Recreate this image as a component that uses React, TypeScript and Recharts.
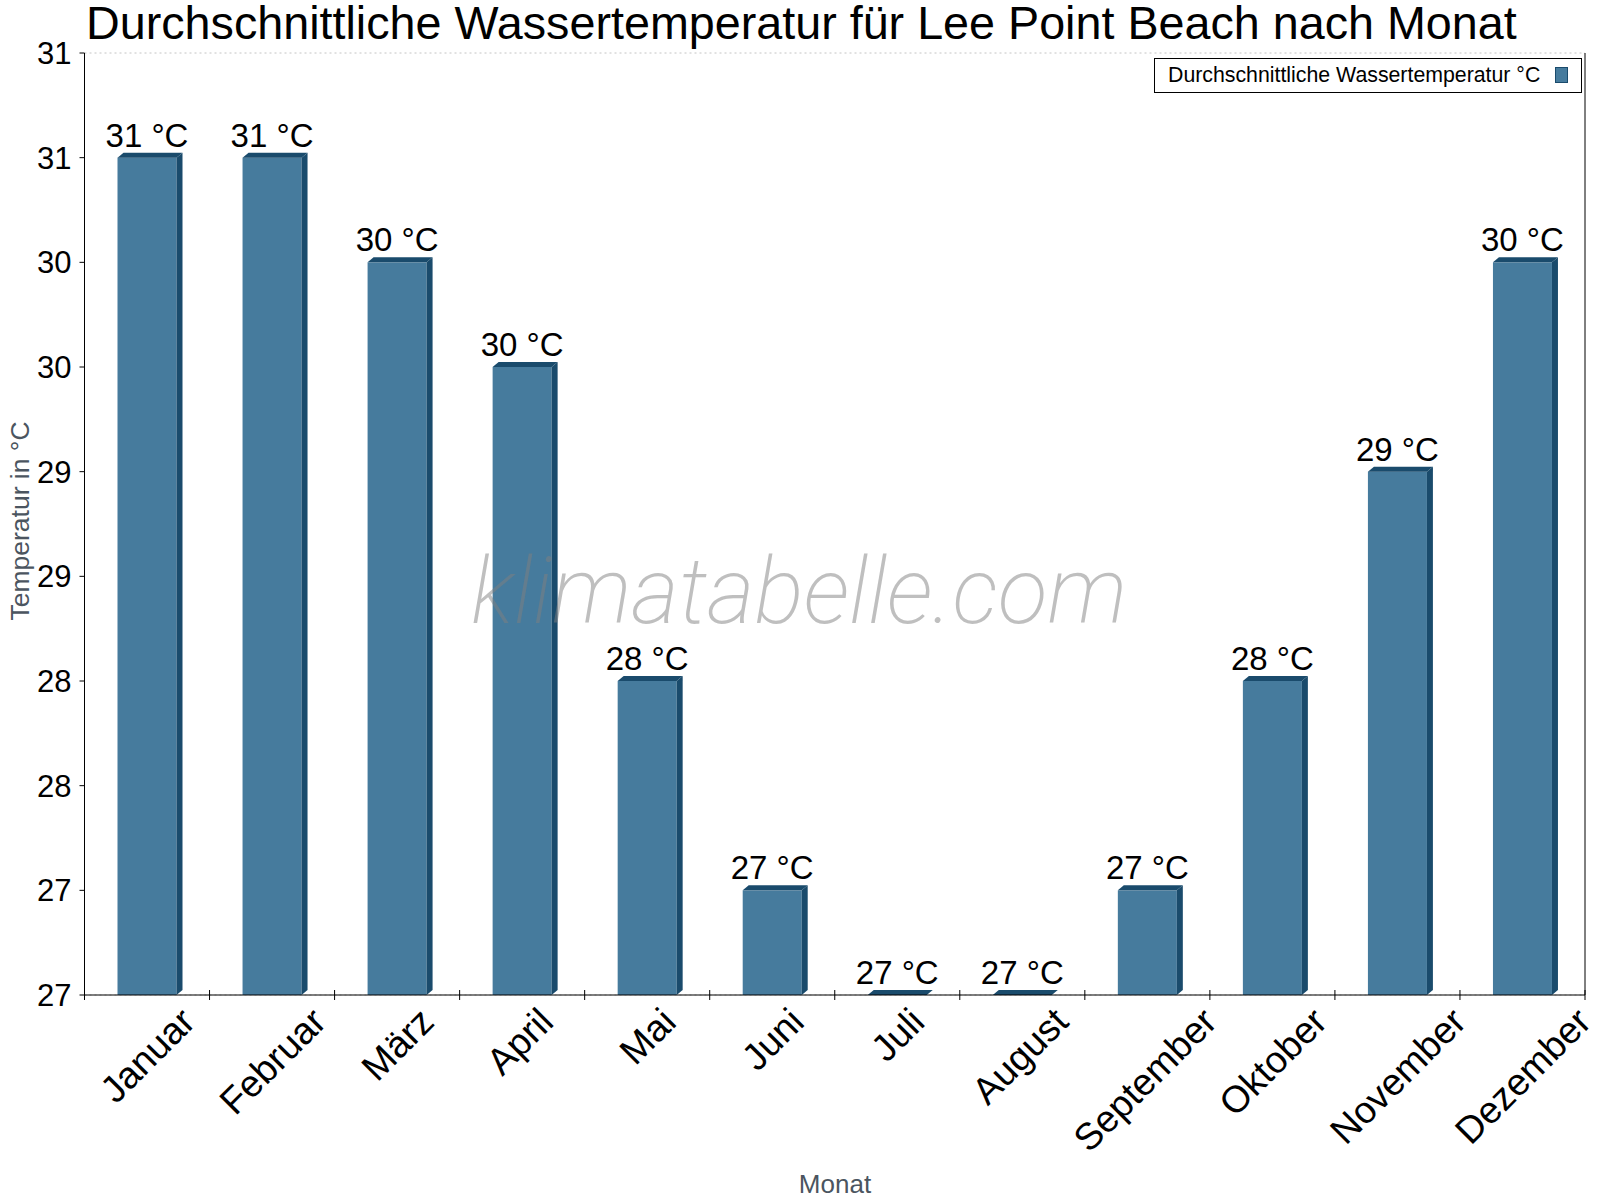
import React from "react";
import { BarChart, Bar, XAxis, YAxis, CartesianGrid, LabelList } from "recharts";

// ---------------------------------------------------------------------------
// Data
// ---------------------------------------------------------------------------

const months = [
  "Januar",
  "Februar",
  "März",
  "April",
  "Mai",
  "Juni",
  "Juli",
  "August",
  "September",
  "Oktober",
  "November",
  "Dezember",
];

// average water temperature in °C
const waterTemp = [30.9, 30.9, 30.4, 29.9, 28.4, 27.4, 26.9, 26.9, 27.4, 28.4, 29.4, 30.4];

const yTicks = [26.9, 27.4, 27.9, 28.4, 28.9, 29.4, 29.9, 30.4, 30.9, 31.4];

const TITLE = "Durchschnittliche Wassertemperatur für Lee Point Beach nach Monat";
const SERIES_NAME = "Durchschnittliche Wassertemperatur °C";

// ---------------------------------------------------------------------------
// Layout / style
// ---------------------------------------------------------------------------

const W = 1600;
const H = 1200;
const PLOT_LEFT = 84.5;
const PLOT_RIGHT = 1585;
const PLOT_TOP = 53;
const AXIS_Y = 995;
const BAND = (PLOT_RIGHT - PLOT_LEFT) / 12;

const FRONT = "#467b9d";
const DARK = "#1a4b6c";
const FONT = "'Liberation Sans', Arial, sans-serif";
const GRAY_TEXT = "#4b5560";

// Arial advance widths (per em) for the month labels
const CHAR_W: Record<string, number> = {
  a: 0.556, b: 0.556, c: 0.5, e: 0.556, g: 0.556, i: 0.222, k: 0.5, l: 0.222,
  m: 0.833, n: 0.556, o: 0.556, p: 0.556, r: 0.333, s: 0.5, t: 0.278, u: 0.556,
  v: 0.5, z: 0.5, "ä": 0.556, A: 0.667, D: 0.722, F: 0.611, J: 0.5, M: 0.833,
  N: 0.722, O: 0.778, S: 0.667,
};

const textWidth = (s: string, fs: number) =>
  s.split("").reduce((acc, ch) => acc + (CHAR_W[ch] ?? 0.556), 0) * fs;

const chartData = months.map((m, i) => ({ month: m, temp: waterTemp[i] }));

// ---------------------------------------------------------------------------
// Pieces
// ---------------------------------------------------------------------------

function Bar3D(props: any) {
  const { x, y, width, height } = props;
  const dx = 6;
  const dy = 5;
  return (
    <g>
      <rect x={x} y={y} width={width} height={Math.max(0, height)} fill={FRONT} />
      <polygon
        points={`${x},${y} ${x + dx},${y - dy} ${x + width + dx},${y - dy} ${x + width},${y}`}
        fill={DARK}
      />
      <polygon
        points={`${x + width},${y} ${x + width + dx},${y - dy} ${x + width + dx},${y + height - dy} ${x + width},${y + height}`}
        fill={DARK}
      />
    </g>
  );
}

function ValueLabel(props: any) {
  const { x, y, width, value } = props;
  return (
    <text
      x={x + width / 2}
      y={y - 11}
      textAnchor="middle"
      fontSize={33}
      fontFamily={FONT}
      fill="#000"
    >
      {`${Math.round(value)} °C`}
    </text>
  );
}

function MonthTick(props: any) {
  const { x, payload, index } = props;
  const label: string = payload.value;
  const fs = 37.5;
  const L = textWidth(label, fs);
  const desc = /[gpq]/.test(label) ? 0.21 : 0;
  const inkH = (0.716 + desc) * fs;
  const half = ((L + inkH) * Math.SQRT1_2) / 2;
  const cy = AXIS_Y + 10 + half;
  const dyText = ((0.716 - desc) / 2) * fs;
  return (
    <g>
      <line x1={x - BAND / 2} x2={x - BAND / 2} y1={AXIS_Y - 5} y2={AXIS_Y + 5} stroke="#000" />
      {index === months.length - 1 && (
        <line x1={x + BAND / 2} x2={x + BAND / 2} y1={AXIS_Y - 5} y2={AXIS_Y + 5} stroke="#000" />
      )}
      <g transform={`translate(${x},${cy}) rotate(-45)`}>
        <text x={0} y={dyText} textAnchor="middle" fontSize={fs} fontFamily={FONT} fill="#000">
          {label}
        </text>
      </g>
    </g>
  );
}

// ---------------------------------------------------------------------------
// Component
// ---------------------------------------------------------------------------

export default function App() {
  return (
    <div
      style={{
        position: "absolute",
        left: 0,
        top: 0,
        width: W,
        height: H,
        background: "#fff",
        fontFamily: FONT,
      }}
    >
      <BarChart
        width={W}
        height={H}
        data={chartData}
        margin={{ top: PLOT_TOP, right: W - PLOT_RIGHT - 10, bottom: 0, left: 0 }}
      >
        <CartesianGrid vertical={false} stroke="#c4c4c4" strokeDasharray="2 3" />
        <XAxis
          dataKey="month"
          height={H - AXIS_Y}
          axisLine={{ stroke: "#000" }}
          tickLine={false}
          interval={0}
          tick={<MonthTick />}
        />
        <YAxis
          yAxisId="left"
          width={PLOT_LEFT}
          domain={[yTicks[0], yTicks[yTicks.length - 1]]}
          allowDataOverflow
          ticks={yTicks}
          interval={0}
          tickSize={5}
          tickMargin={8}
          axisLine={{ stroke: "#000" }}
          tickLine={{ stroke: "#000" }}
          tick={{ fill: "#000", fontSize: 31, fontFamily: FONT }}
          tickFormatter={(v: number) => `${Math.round(v)}`}
        />
        <YAxis
          yAxisId="right"
          orientation="right"
          width={10}
          domain={[yTicks[0], yTicks[yTicks.length - 1]]}
          allowDataOverflow
          ticks={yTicks}
          tick={false}
          tickLine={false}
          axisLine={{ stroke: "#000" }}
        />
        <Bar
          yAxisId="left"
          dataKey="temp"
          barSize={59}
          shape={<Bar3D />}
          isAnimationActive={false}
        >
          <LabelList dataKey="temp" content={<ValueLabel />} />
        </Bar>
      </BarChart>

      {/* overlay: title, legend, axis titles, watermark */}
      <svg
        width={W}
        height={H}
        style={{ position: "absolute", left: 0, top: 0, pointerEvents: "none" }}
      >
        <text x={86} y={39} fontSize={46.7} fontFamily={FONT} fill="#000">
          {TITLE}
        </text>

        <g>
          <rect x={1154.5} y={58.5} width={427} height={34} fill="#fff" stroke="#000" />
          <text x={1168} y={82} fontSize={21.3} fontFamily={FONT} fill="#000">
            {SERIES_NAME}
          </text>
          <rect x={1555.5} y={67.5} width={12} height={15} fill={FRONT} stroke={DARK} />
        </g>

        <text
          transform={`translate(29,521) rotate(-90)`}
          textAnchor="middle"
          fontSize={26.5}
          fontFamily={FONT}
          fill={GRAY_TEXT}
        >
          Temperatur in °C
        </text>
        <text x={835} y={1193} textAnchor="middle" fontSize={26} fontFamily={FONT} fill={GRAY_TEXT}>
          Monat
        </text>

        <text
          x={799}
          y={623}
          textAnchor="middle"
          fontSize={93}
          fontFamily="Roboto, sans-serif"
          fontWeight={200}
          fontStyle="italic"
          textLength={656}
          lengthAdjust="spacingAndGlyphs"
          fill="#808080"
          fillOpacity={0.5}
        >
          klimatabelle.com
        </text>
      </svg>
    </div>
  );
}
